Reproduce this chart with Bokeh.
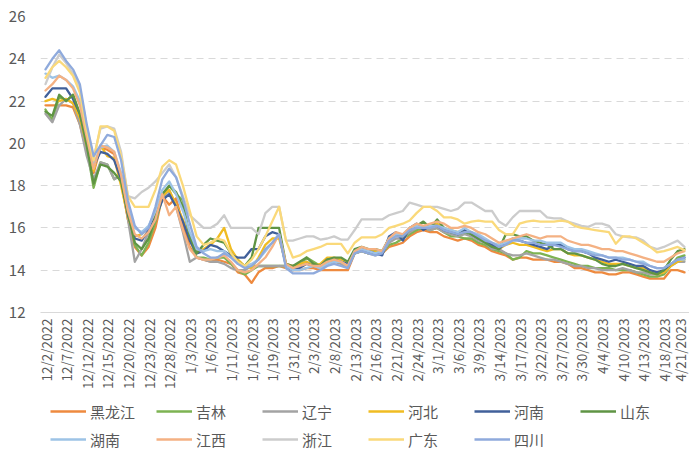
import math
from bokeh.plotting import figure
from bokeh.layouts import column
from bokeh.models import Range1d, FixedTicker, Legend, LegendItem
from bokeh.embed import file_html
from bokeh.resources import INLINE

dates = ["12/2/2022", "12/5/2022", "12/6/2022", "12/7/2022", "12/8/2022", "12/9/2022", "12/12/2022", "12/13/2022", "12/14/2022", "12/15/2022",
         "12/16/2022", "12/19/2022", "12/20/2022", "12/21/2022", "12/22/2022", "12/23/2022", "12/26/2022", "12/27/2022", "12/28/2022", "12/29/2022",
         "12/30/2022", "1/3/2023", "1/4/2023", "1/5/2023", "1/6/2023", "1/9/2023", "1/10/2023", "1/11/2023", "1/12/2023", "1/13/2023",
         "1/16/2023", "1/17/2023", "1/18/2023", "1/19/2023", "1/20/2023", "1/30/2023", "1/31/2023", "2/1/2023", "2/2/2023", "2/3/2023",
         "2/6/2023", "2/7/2023", "2/8/2023", "2/9/2023", "2/10/2023", "2/13/2023", "2/14/2023", "2/15/2023", "2/16/2023", "2/17/2023",
         "2/20/2023", "2/21/2023", "2/22/2023", "2/23/2023", "2/24/2023", "2/27/2023", "2/28/2023", "3/1/2023", "3/2/2023", "3/3/2023",
         "3/6/2023", "3/7/2023", "3/8/2023", "3/9/2023", "3/10/2023", "3/13/2023", "3/14/2023", "3/15/2023", "3/16/2023", "3/17/2023",
         "3/20/2023", "3/21/2023", "3/22/2023", "3/23/2023", "3/24/2023", "3/27/2023", "3/28/2023", "3/29/2023", "3/30/2023", "3/31/2023",
         "4/3/2023", "4/4/2023", "4/6/2023", "4/7/2023", "4/10/2023", "4/11/2023", "4/12/2023", "4/13/2023", "4/14/2023", "4/17/2023",
         "4/18/2023", "4/19/2023", "4/20/2023", "4/21/2023"]

provinces = ["黑龙江", "吉林", "辽宁", "河北", "河南", "山东", "湖南", "江西", "浙江", "广东", "四川"]

heilongjiang = [21.8, 21.8, 21.8, 21.8, 21.7, 20.9, 19.6, 18.6, 19.8, 19.7,
                19.5, 18.2, 16.4, 15.1, 14.7, 15.1, 16.0, 17.5, 17.1, 17.4,
                16.2, 15.1, 14.6, 14.5, 14.4, 14.5, 14.4, 14.3, 13.9, 13.8,
                13.4, 13.9, 14.1, 14.1, 14.2, 14.1, 14.0, 14.0, 14.1, 14.1,
                14.0, 14.0, 14.0, 14.0, 14.0, 14.8, 14.9, 14.8, 14.9, 14.8,
                15.1, 15.2, 15.3, 15.6, 15.8, 15.9, 15.8, 15.8, 15.6, 15.5,
                15.4, 15.5, 15.4, 15.2, 15.1, 14.9, 14.8, 14.7, 14.5, 14.6,
                14.6, 14.5, 14.5, 14.5, 14.4, 14.4, 14.3, 14.1, 14.1, 14.0,
                13.9, 13.9, 13.8, 13.8, 13.9, 13.9, 13.8, 13.7, 13.6, 13.6,
                13.6, 14.0, 14.0, 13.9]
jilin = [21.6, 21.1, 22.2, 22.0, 22.3, 21.3, 19.8, 17.9, 19.1, 19.0,
         18.3, 18.5, 16.9, 15.2, 14.7, 15.3, 16.3, 17.4, 18.0, 17.6,
         17.3, 15.5, 14.6, 14.6, 14.5, 14.6, 14.6, 14.3, 14.0, 13.8,
         14.0, 14.2, 14.2, 14.2, 14.2, 14.2, 14.1, 14.2, 14.6, 14.4,
         14.2, 14.3, 14.4, 14.4, 14.2, 14.8, 14.9, 14.8, 14.8, 14.8,
         15.2, 15.3, 15.5, 15.7, 15.9, 16.0, 15.9, 16.0, 15.8, 15.6,
         15.6, 15.5, 15.5, 15.3, 15.2, 15.0, 14.9, 14.8, 14.5, 14.6,
         14.9, 14.8, 14.8, 14.7, 14.6, 14.5, 14.4, 14.3, 14.2, 14.2,
         14.1, 14.1, 14.1, 14.0, 14.0, 14.0, 13.9, 13.8, 13.7, 13.7,
         13.8, 14.2, 14.6, 14.7]
liaoning = [21.4, 21.0, 21.8, 22.1, 21.9, 20.9, 19.4, 18.3, 19.1, 19.0,
            18.3, 18.5, 16.4, 14.4, 15.0, 15.8, 16.6, 17.4, 17.8, 17.0,
            15.8, 14.4, 14.6, 14.5, 14.4, 14.4, 14.3, 14.1, 14.0, 14.0,
            14.2, 14.2, 14.2, 14.2, 14.2, 14.2, 14.2, 14.3, 14.4, 14.2,
            14.1, 14.3, 14.4, 14.3, 14.1, 14.8, 14.9, 14.8, 14.7, 14.8,
            15.3, 15.5, 15.5, 15.8, 16.0, 16.0, 15.9, 16.0, 15.8, 15.7,
            15.6, 15.7, 15.6, 15.4, 15.3, 15.0, 15.0, 14.8, 14.7, 14.7,
            14.8, 14.7, 14.6, 14.5, 14.5, 14.4, 14.3, 14.2, 14.2, 14.1,
            14.1, 14.0, 14.0, 14.0, 14.1, 14.0, 13.9, 13.9, 13.8, 13.8,
            13.9, 14.2, 14.4, 14.4]
hebei = [22.0, 22.1, 22.0, 22.1, 21.9, 21.2, 19.9, 18.7, 19.9, 19.4,
         19.3, 18.0, 16.5, 15.6, 15.7, 16.0, 16.6, 17.5, 17.8, 17.1,
         16.4, 15.4, 14.9, 15.0, 15.2, 15.5, 16.0, 15.0, 14.5, 14.2,
         14.1, 14.6, 15.2, 15.5, 15.5, 14.3, 14.2, 14.3, 14.4, 14.2,
         14.3, 14.6, 14.6, 14.5, 14.3, 14.9, 15.0, 15.0, 14.9, 14.9,
         15.5, 15.7, 15.6, 16.0, 16.1, 16.0, 16.1, 16.2, 16.0, 15.9,
         15.8, 15.9, 15.8, 15.6, 15.4, 15.2, 15.0, 15.2, 15.3, 15.2,
         15.2, 15.1, 15.0, 14.9, 15.0, 15.0, 14.8, 14.7, 14.7, 14.6,
         14.5, 14.4, 14.3, 14.3, 14.3, 14.2, 14.1, 14.1, 13.9, 13.8,
         13.9, 14.2, 14.4, 14.5]
henan = [22.2, 22.6, 22.6, 22.6, 22.1, 21.4, 20.2, 18.9, 19.6, 19.5,
         19.2, 18.3, 16.6, 15.5, 15.4, 15.9, 16.5, 17.3, 17.6, 17.0,
         16.3, 15.4, 14.8, 14.9, 15.2, 15.1, 14.9, 14.7, 14.6, 14.6,
         15.0, 15.0, 15.6, 15.8, 15.7, 14.2, 14.0, 14.1, 14.3, 14.2,
         14.2, 14.5, 14.5, 14.4, 14.3, 14.9, 15.0, 14.9, 14.8, 14.7,
         15.6, 15.8, 15.4, 16.0, 16.2, 15.9, 16.1, 16.1, 15.9, 15.8,
         15.7, 15.9, 15.7, 15.5, 15.4, 15.2, 15.0, 15.3, 15.5, 15.4,
         15.3, 15.2, 15.1, 15.0, 15.2, 15.2, 15.0, 14.9, 14.9, 14.8,
         14.6, 14.5, 14.4, 14.5, 14.4, 14.3, 14.2, 14.2, 14.0, 13.9,
         14.0, 14.3, 14.5, 14.6]
shandong = [21.5, 21.3, 22.3, 22.0, 22.3, 21.4, 19.9, 18.1, 19.0, 18.9,
            18.6, 18.2, 16.7, 15.3, 15.0, 15.5, 16.5, 17.6, 18.0, 17.7,
            17.0, 15.6, 14.8, 15.2, 15.5, 15.4, 15.3, 14.8, 14.4, 14.2,
            14.6, 16.0, 16.0, 16.0, 16.0, 14.3, 14.2, 14.4, 14.6, 14.3,
            14.2, 14.5, 14.6, 14.6, 14.4, 15.0, 15.1, 15.0, 15.0, 14.9,
            15.5, 15.7, 15.6, 15.9, 16.1, 16.3, 16.0, 16.4, 16.0, 15.8,
            15.7, 15.8, 15.7, 15.5, 15.3, 15.1, 15.0, 15.7, 15.7, 15.6,
            15.6, 15.4, 15.3, 15.2, 15.0, 15.0, 14.8, 14.8, 14.7, 14.6,
            14.5, 14.3, 14.2, 14.2, 14.3, 14.2, 14.1, 14.0, 13.9, 13.8,
            14.0, 14.5, 14.9, 15.0]
hunan = [23.3, 23.1, 23.2, 23.0, 22.7, 22.0, 20.5, 19.0, 19.8, 19.9,
         19.6, 18.6, 16.9, 16.0, 15.8, 16.1, 16.8, 17.8, 18.2, 17.6,
         16.8, 15.8, 15.0, 14.9, 15.0, 14.9, 14.9, 14.6, 14.3, 14.2,
         14.3, 14.5, 14.9, 15.3, 15.7, 14.2, 14.0, 14.0, 14.1, 14.2,
         14.1, 14.3, 14.4, 14.4, 14.2, 14.9, 15.0, 14.9, 14.8, 14.9,
         15.5, 15.7, 15.7, 16.0, 16.1, 16.0, 16.1, 16.1, 16.0, 15.9,
         15.8, 16.0, 15.8, 15.7, 15.5, 15.3, 15.2, 15.3, 15.5, 15.5,
         15.5, 15.4, 15.4, 15.3, 15.3, 15.3, 15.1, 15.0, 15.0, 14.9,
         14.8, 14.7, 14.6, 14.6, 14.6, 14.5, 14.4, 14.4, 14.2, 14.1,
         14.1, 14.3, 14.5, 14.5]
jiangxi = [22.5, 22.8, 23.2, 23.0, 22.6, 21.8, 20.3, 18.8, 19.9, 19.8,
           19.6, 18.5, 16.8, 15.7, 15.5, 15.8, 16.4, 17.6, 16.6, 17.0,
           15.9, 15.0, 14.6, 14.5, 14.5, 14.6, 14.7, 14.4, 14.0, 13.9,
           14.0, 14.3, 14.6, 15.1, 15.7, 14.3, 14.1, 14.2, 14.3, 14.2,
           14.2, 14.4, 14.5, 14.4, 14.2, 14.9, 15.1, 15.0, 15.0, 14.9,
           15.5, 15.8, 15.7, 16.0, 16.2, 16.1, 16.2, 16.3, 16.2, 16.0,
           16.0, 16.1, 16.0, 15.8, 15.7, 15.5, 15.3, 15.4, 15.5, 15.6,
           15.7, 15.6, 15.5, 15.6, 15.6, 15.6, 15.4, 15.3, 15.2, 15.2,
           15.1, 15.0, 15.0, 14.9, 14.9, 14.8, 14.7, 14.6, 14.5, 14.4,
           14.4, 14.6, 14.8, 14.9]
zhejiang = [22.8, 23.6, 24.2, 23.8, 23.3, 22.6, 20.8, 19.3, 20.7, 20.8,
            20.7, 19.6, 17.5, 17.4, 17.7, 17.9, 18.2, 18.6, 19.0, 18.4,
            17.5, 16.6, 16.3, 16.0, 16.0, 16.2, 16.6, 16.0, 16.0, 16.0,
            16.0, 15.7, 16.7, 17.0, 17.0, 15.4, 15.4, 15.5, 15.6, 15.6,
            15.45, 15.5, 15.6, 15.45, 15.45, 15.9, 16.4, 16.4, 16.4, 16.4,
            16.6, 16.7, 16.8, 17.2, 17.1, 17.0, 17.0, 17.0, 16.9, 16.8,
            16.9, 17.2, 17.2, 17.0, 16.8, 16.8, 16.3, 16.1, 16.5, 16.8,
            16.8, 16.8, 16.8, 16.5, 16.45, 16.45, 16.3, 16.2, 16.1, 16.05,
            16.2, 16.2, 16.1, 15.7, 15.6, 15.55, 15.55, 15.4, 15.1, 15.0,
            15.1, 15.25, 15.4, 15.1]
guangdong = [23.1, 23.6, 23.9, 23.6, 23.2, 22.4, 20.6, 19.2, 20.8, 20.8,
             20.6, 19.4, 17.5, 17.0, 17.0, 17.0, 17.8, 18.9, 19.2, 19.0,
             18.0, 16.8, 15.6, 15.2, 15.3, 15.5, 15.4, 14.8, 14.4, 14.2,
             14.5, 15.0, 15.6, 16.3, 17.0, 15.4, 14.6, 14.7, 14.9, 15.0,
             15.1, 15.25, 15.25, 15.25, 14.8, 15.3, 15.55, 15.55, 15.55, 15.7,
             16.0, 16.1, 16.2, 16.35, 16.7, 17.0, 17.0, 16.8, 16.5, 16.5,
             16.4, 16.2, 16.3, 16.35, 16.3, 16.3, 15.9, 15.7, 15.7, 16.2,
             16.3, 16.35, 16.3, 16.3, 16.3, 16.35, 16.3, 16.1, 16.0, 15.95,
             15.9, 15.85, 15.8, 15.25, 15.6, 15.6, 15.5, 15.3, 15.1, 14.85,
             14.9, 15.0, 15.1, 14.95]
sichuan = [23.5, 24.0, 24.4, 23.9, 23.5, 22.8, 20.9, 19.4, 19.9, 20.4,
           20.3, 19.2, 17.3, 16.1, 15.7, 16.0, 17.0, 18.3, 18.8, 18.4,
           17.4, 16.2, 15.1, 14.8, 14.6, 14.6, 14.8, 14.6, 14.3, 14.1,
           14.2, 14.5, 15.0, 15.3, 15.7, 14.1, 13.85, 13.85, 13.85, 13.85,
           14.0, 14.2, 14.3, 14.2, 14.1, 14.8, 14.9, 14.8, 14.7, 14.8,
           15.4, 15.6, 15.6, 15.9, 16.0, 16.0, 16.0, 16.1, 15.9, 15.8,
           15.7, 15.8, 15.8, 15.6, 15.4, 15.3, 15.1, 15.2, 15.4, 15.4,
           15.3, 15.3, 15.2, 15.2, 15.2, 15.1, 15.0, 14.9, 14.9, 14.8,
           14.7, 14.7, 14.6, 14.6, 14.5, 14.5, 14.4, 14.3, 14.2, 14.1,
           14.1, 14.3, 14.5, 14.6]

y_ticks = [12, 14, 16, 18, 20, 22, 24, 26]

series_values = [heilongjiang, jilin, liaoning, hebei, henan, shandong,
                 hunan, jiangxi, zhejiang, guangdong, sichuan]
colors = ["#EE8A3F", "#7DB352", "#A3A3A3", "#F0BC22", "#41609A", "#5F9444",
          "#9DC3E6", "#F4B183", "#CCCCCC", "#FAD97A", "#8FAADC"]

FONT = "Noto Sans CJK SC"
TEXT = "#595959"
LINE_W = 2.3

x = list(range(len(dates)))

# ---- main chart ----
p = figure(width=689, height=398, output_backend="svg", toolbar_location=None,
           x_range=Range1d(-0.728, 93.73), y_range=Range1d(12, 26),
           min_border_left=40, min_border_right=0, min_border_top=16,
           min_border_bottom=86)
p.outline_line_color = None
p.background_fill_color = "white"
p.border_fill_color = "white"

for name, vals, col in zip(provinces, series_values, colors):
    p.line(x, vals, line_color=col, line_width=LINE_W, line_join="round", line_cap="round")

p.yaxis.ticker = FixedTicker(ticks=y_ticks)
p.yaxis.axis_line_color = None
p.yaxis.major_tick_line_color = None
p.yaxis.minor_tick_line_color = None
p.yaxis.major_label_text_font = FONT
p.yaxis.major_label_text_font_size = "15px"
p.yaxis.major_label_text_color = TEXT
p.yaxis.major_label_standoff = 9

p.ygrid.ticker = FixedTicker(ticks=y_ticks)
p.ygrid.grid_line_color = "#D9D9D9"
p.ygrid.grid_line_dash = "7 5"
p.ygrid.grid_line_width = 1
p.xgrid.grid_line_color = None

tick_idx = list(range(0, len(dates), 3))
p.xaxis.ticker = FixedTicker(ticks=tick_idx)
p.xaxis.major_label_overrides = {i: dates[i] for i in tick_idx}
p.xaxis.major_label_orientation = math.pi / 2
p.xaxis.axis_line_color = "#D9D9D9"
p.xaxis.major_tick_line_color = None
p.xaxis.minor_tick_line_color = None
p.xaxis.major_tick_out = 0
p.xaxis.major_label_text_font = FONT
p.xaxis.major_label_text_font_size = "13.5px"
p.xaxis.major_label_text_color = TEXT
p.xaxis.major_label_standoff = 6

# ---- legend strip (proxy lines sit outside its visible range) ----
lf = figure(width=689, height=54, output_backend="svg", toolbar_location=None,
            x_range=Range1d(0, 1), y_range=Range1d(100, 101),
            x_axis_location=None, y_axis_location=None,
            min_border=0)
lf.outline_line_color = None
lf.grid.visible = False
lf.background_fill_color = "white"
lf.border_fill_color = "white"

items = []
for name, vals, col in zip(provinces, series_values, colors):
    r = lf.line(x, vals, line_color=col, line_width=LINE_W)
    items.append(LegendItem(label=name, renderers=[r]))

legend = Legend(items=items, orientation="horizontal", ncols=6, location=(10, 0))
legend.label_text_font = FONT
legend.label_text_font_size = "15px"
legend.label_text_color = TEXT
legend.glyph_width = 36
legend.glyph_height = 26
legend.label_height = 26
legend.label_width = 64
legend.label_standoff = 4
legend.spacing = 2
legend.padding = 0
legend.margin = 0
legend.border_line_color = None
legend.background_fill_alpha = 0
lf.add_layout(legend)

layout = column(p, lf, spacing=0)

open("out.html", "w").write(file_html(layout, INLINE))
